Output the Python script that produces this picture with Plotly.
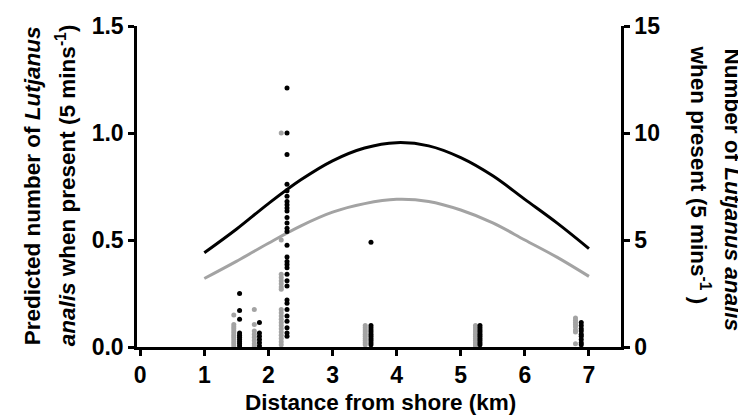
import plotly.graph_objects as go

# ---- data ----
curve_x = [1, 1.5, 2, 2.5, 3, 3.5, 4, 4.5, 5, 5.5, 6, 6.5, 7]
curve_black = [0.44, 0.55, 0.67, 0.78, 0.87, 0.93, 0.955, 0.94, 0.885, 0.80, 0.69, 0.58, 0.46]
curve_gray = [0.32, 0.40, 0.485, 0.565, 0.63, 0.67, 0.69, 0.68, 0.64, 0.58, 0.50, 0.42, 0.33]

# observed counts (right axis), grouped by distance
gray_sites = [1.46, 1.78, 2.20, 3.51, 5.23, 6.79]
gray_counts = [
    [1.5, 1.05, 0.95, 0.85, 0.75, 0.65, 0.55, 0.45, 0.35, 0.25, 0.15, 0.05],
    [1.75, 1.05, 0.75, 0.6, 0.45, 0.3, 0.15, 0.05],
    [10.0, 5.0, 3.4, 3.25, 3.1, 2.95, 2.8, 2.7, 1.75, 1.6, 1.45, 1.3, 1.15, 1.0,
     0.85, 0.7, 0.55, 0.4, 0.25, 0.1],
    [1.0, 0.9, 0.8, 0.7, 0.6, 0.5, 0.4, 0.3, 0.2, 0.1],
    [1.0, 0.9, 0.8, 0.7, 0.6, 0.5, 0.4, 0.3, 0.2, 0.1, 0.05],
    [1.35, 1.25, 1.15, 1.05, 0.95, 0.8, 0.7, 0.15],
]
black_sites = [1.55, 1.86, 2.29, 3.60, 5.30, 6.88]
black_counts = [
    [2.5, 1.7, 1.3, 0.65, 0.55, 0.45, 0.35, 0.25, 0.15, 0.05],
    [1.15, 0.65, 0.5, 0.35, 0.2, 0.05],
    [12.1, 10.0, 9.0, 7.6, 7.3, 7.05, 6.8, 6.65, 6.5, 6.35, 6.05, 5.8, 5.55, 5.4,
     4.75, 4.2, 4.0, 3.85, 3.7, 3.4, 3.1, 2.85, 2.2, 2.05, 1.75, 1.45, 1.2, 0.9,
     0.65, 0.5],
    [4.9, 1.0, 0.9, 0.8, 0.7, 0.6, 0.5, 0.4, 0.3, 0.2, 0.1],
    [1.0, 0.9, 0.8, 0.7, 0.6, 0.5, 0.4, 0.3, 0.2, 0.1],
    [1.15, 1.0, 0.85, 0.75, 0.6, 0.5, 0.35, 0.2, 0.1],
]

x_ticks = [0, 1, 2, 3, 4, 5, 6, 7]
y_ticks = [0, 0.5, 1.0, 1.5]
y_ticklabels = ["0.0", "0.5", "1.0", "1.5"]
y2_ticks = [0, 5, 10, 15]

GRAY = "#a3a3a3"
BLACK = "#000000"
FONT = "Liberation Sans, Arial, Helvetica, sans-serif"

def flatten(sites, counts):
    xs, ys = [], []
    for s, c in zip(sites, counts):
        xs += [s] * len(c)
        ys += c
    return xs, ys

gx, gy = flatten(gray_sites, gray_counts)
bx, by = flatten(black_sites, black_counts)

fig = go.Figure()
fig.add_trace(go.Scatter(x=curve_x, y=curve_gray, mode="lines", line=dict(color=GRAY, width=3, shape="spline"),
                         showlegend=False, yaxis="y"))
fig.add_trace(go.Scatter(x=curve_x, y=curve_black, mode="lines", line=dict(color=BLACK, width=3, shape="spline"),
                         showlegend=False, yaxis="y"))
fig.add_trace(go.Scatter(x=gx, y=gy, mode="markers", marker=dict(color=GRAY, size=5),
                         showlegend=False, yaxis="y2", cliponaxis=False))
fig.add_trace(go.Scatter(x=bx, y=by, mode="markers", marker=dict(color=BLACK, size=5),
                         showlegend=False, yaxis="y2", cliponaxis=False))

W, H = 746, 417
L, R, T, B = 128.5, 133.3, 18.3, 77.7
pw = W - L - R
ph = H - T - B

def px2paper_x(px):
    return (px - L) / pw

def py2paper_y(py):
    return (H - B - py) / ph

tickfont = dict(family=FONT, size=23, color="black", weight="bold")
axis_common = dict(showline=True, linecolor="black", linewidth=2.5, ticks="outside",
                   ticklen=6, tickwidth=2.5, tickcolor="black", showgrid=False,
                   zeroline=False, tickfont=tickfont)

fig.update_layout(
    width=W, height=H,
    margin=dict(l=L, r=R, t=T, b=B, autoexpand=False),
    paper_bgcolor="white", plot_bgcolor="white",
    xaxis=dict(range=[-0.05, 7.5], tickvals=x_ticks, ticktext=[str(v) for v in x_ticks], **axis_common),
    yaxis=dict(range=[0, 1.5], tickvals=y_ticks, ticktext=y_ticklabels, **axis_common),
    yaxis2=dict(range=[0, 15], tickvals=y2_ticks, ticktext=[str(v) for v in y2_ticks],
                overlaying="y", side="right", **axis_common),
)

tfont = dict(family=FONT, size=22.5, color="black")
ann = [
    dict(text="<b>Distance from shore (km)</b>", x=px2paper_x(372), y=py2paper_y(395)),
    dict(text="<b>Predicted number of <i>Lutjanus</i></b>", x=px2paper_x(24), y=py2paper_y(178), textangle=-90),
    dict(text="<b><i>analis</i> when present (5 mins<sup>-1</sup>)</b>", x=px2paper_x(57), y=py2paper_y(178), textangle=-90),
    dict(text="<b>Number of <i>Lutjanus analis</i></b>", x=px2paper_x(724), y=py2paper_y(182), textangle=90),
    dict(text="<b>when present (5 mins<sup>-1</sup> )</b>", x=px2paper_x(692), y=py2paper_y(167), textangle=90),
]
for a in ann:
    fig.add_annotation(xref="paper", yref="paper", showarrow=False, font=tfont,
                       xanchor="center", yanchor="middle", **a)

fig.write_html("out.html")
